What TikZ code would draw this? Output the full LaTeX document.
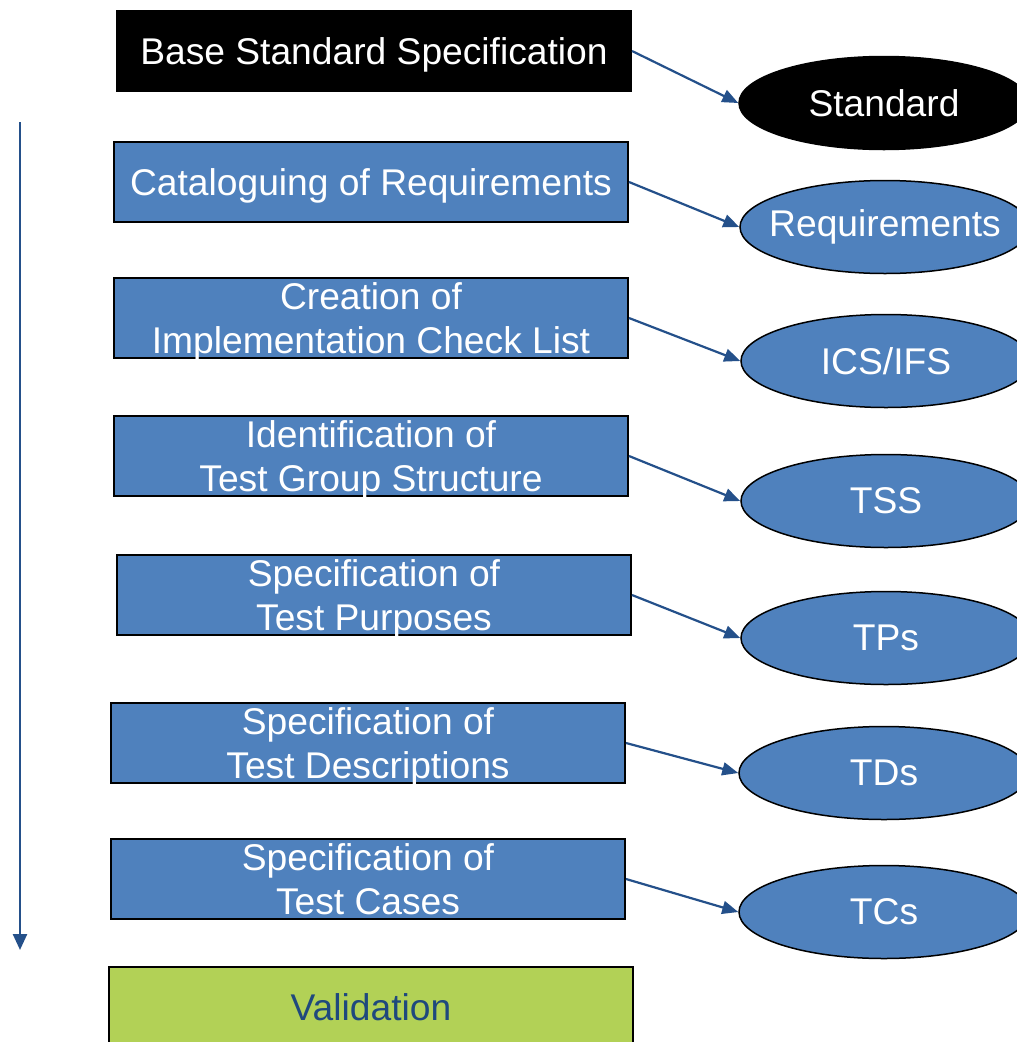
\documentclass[tikz,border=0pt]{standalone}
\usepackage{fontspec}
\setmainfont{Liberation Sans}
\usetikzlibrary{arrows.meta,shapes.geometric}
\definecolor{boxblue}{HTML}{4F81BD}
\definecolor{arrowblue}{HTML}{24508A}
\definecolor{valgreen}{HTML}{B2D156}
\definecolor{valtext}{HTML}{1F497D}
\begin{document}
\begin{tikzpicture}[x=1pt,y=-1pt,
  txt/.style={font=\fontsize{37.2}{44}\selectfont, text=white, align=center},
  stepbox/.style={txt, draw=black, line width=2pt, fill=boxblue, minimum width=514pt, minimum height=80pt, inner sep=0pt, text depth=0pt, anchor=north west},
  prod/.style={txt, ellipse, draw=black, line width=1.5pt, fill=boxblue, minimum width=290pt, minimum height=93pt, inner sep=0pt},
  conn/.style={draw=arrowblue, line width=2.2pt, -{Triangle[length=16pt,width=13pt]}}
]
\useasboundingbox (0,0) rectangle (1017,1042);
\clip (0,0) rectangle (1017,1042);
\fill[white] (0,0) rectangle (1017,1042);
% boxes
\node[stepbox, fill=black] (b1) at (116,10) {Base Standard Specification};
\node[stepbox] (b2) at (113,141) {Cataloguing of Requirements};
\node[stepbox] (b3) at (113,277) {Creation of\\Implementation Check List};
\node[stepbox] (b4) at (113,415) {Identification of\\Test Group Structure};
\node[stepbox] (b5) at (116,554) {Specification of\\Test Purposes};
\node[stepbox] (b6) at (110,702) {Specification of\\Test Descriptions};
\node[stepbox] (b7) at (110,838) {Specification of\\Test Cases};
\node[stepbox, fill=valgreen, text=valtext, minimum width=524pt] (b8) at (108,966) {Validation};
% ellipses
\node[prod, fill=black] (e1) at (884,103) {Standard};
\node[prod] (e2) at (885,227) {\makebox[0pt]{Requirements}};
\node[prod] (e3) at (886,361) {ICS/IFS};
\node[prod] (e4) at (886,501) {TSS};
\node[prod] (e5) at (886,638) {TPs};
\node[prod] (e6) at (884,773) {TDs};
\node[prod] (e7) at (884,912) {TCs};
% connectors
\foreach \i in {1,...,7} { \draw[conn] (b\i.east) -- (e\i.west); }
% process arrow
\coordinate (ps) at (20,122);
\coordinate (pe) at (20,950);
\draw[draw=arrowblue, line width=2.5pt, -{Triangle[length=16pt,width=14pt]}] (ps) -- (pe);
\end{tikzpicture}
\end{document}
